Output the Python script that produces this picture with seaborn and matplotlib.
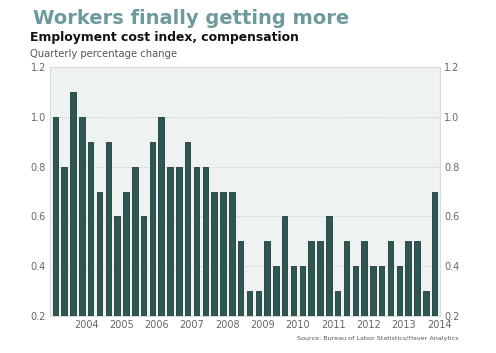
import pandas as pd
import matplotlib
matplotlib.use("Agg")
import matplotlib.pyplot as plt
import seaborn as sns

# --- DATA ---
quarters = [f"{y}Q{q}" for y in range(2003, 2014) for q in range(1, 5)]
pct_change = [1.0, 0.8, 1.1, 1.0, 0.9, 0.7, 0.9, 0.6, 0.7, 0.8, 0.6, 0.9,
              1.0, 0.8, 0.8, 0.9, 0.8, 0.8, 0.7, 0.7, 0.7, 0.5, 0.3, 0.3,
              0.5, 0.4, 0.6, 0.4, 0.4, 0.5, 0.5, 0.6, 0.3, 0.5, 0.4, 0.5,
              0.4, 0.4, 0.5, 0.4, 0.5, 0.5, 0.3, 0.7]
year_labels = [str(y) for y in range(2004, 2015)]
y_ticks = [0.2, 0.4, 0.6, 0.8, 1.0, 1.2]

df = pd.DataFrame({"Quarter": quarters, "Change": pct_change})

sns.set_style("white")
plt.rcParams["font.family"] = ["DejaVu Sans"]

fig = plt.figure(figsize=(4.96, 3.53), dpi=100)
ax = fig.add_axes([0.101, 0.105, 0.786, 0.705])
ax.set_facecolor("#eef3f1")

sns.barplot(data=df, x="Quarter", y="Change", color="#2e5652", width=0.62,
            edgecolor="#1f3a37", linewidth=0.6, saturation=1, ax=ax, zorder=3)

ax.set_ylim(0.2, 1.2)
ax.set_xlim(-0.6, 43.6)
ax.set_yticks(y_ticks)
ax.set_yticklabels([f"{v:.1f}" for v in y_ticks])
ax.set_xticks([3.5 + 4 * i for i in range(len(year_labels))])
ax.set_xticklabels(year_labels)
ax.tick_params(axis="both", labelsize=7, colors="#666666", length=0, pad=3)
ax.tick_params(axis="y", labelright=True)
ax.set_xlabel("")
ax.set_ylabel("")
for v in y_ticks[1:-1]:
    ax.axhline(v, color="#c9cfcd", linewidth=0.7, linestyle=(0, (1, 1)), zorder=1)
for side, sp in ax.spines.items():
    sp.set_color("#d6dcda")
    sp.set_linewidth(0.8)

# --- Titles ---
fig.text(0.066, 0.948, "Workers finally getting more", fontsize=14, fontweight="bold",
         color="#6e9a9b", va="center")
fig.text(0.06, 0.893, "Employment cost index, compensation", fontsize=8.9,
         fontweight="bold", color="#111111", va="center")
fig.text(0.06, 0.848, "Quarterly percentage change", fontsize=7.2, color="#555555",
         va="center")
fig.text(0.925, 0.042, "Source: Bureau of Labor Statistics/Haver Analytics", fontsize=4.6,
         color="#555555", ha="right", va="center")

plt.savefig("out.png", dpi=100)
